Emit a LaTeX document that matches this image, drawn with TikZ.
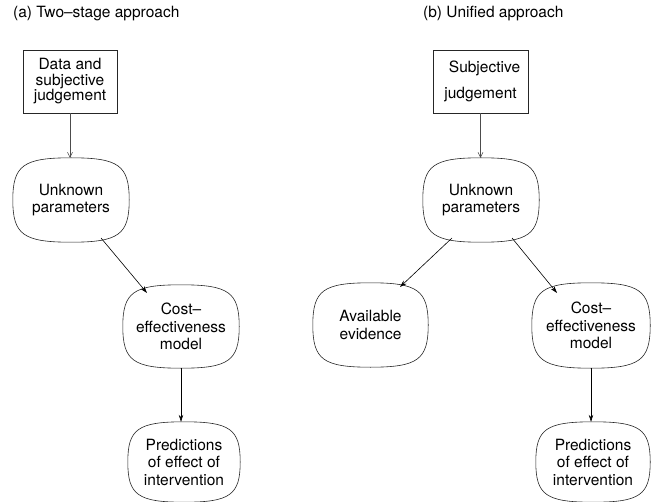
\documentclass[tikz,border=0pt]{standalone}
\usepackage{fontspec}
\setmainfont{TeX Gyre Heros}
\usetikzlibrary{arrows.meta,calc}
\newcommand{\sqcirc}[1]{%
  \draw[line width=0.6pt, draw=black!85]
    (#1.north) .. controls ($(#1.north)!0.82!(#1.north east)$) and ($(#1.east)!0.82!(#1.north east)$) .. (#1.east)
    .. controls ($(#1.east)!0.82!(#1.south east)$) and ($(#1.south)!0.82!(#1.south east)$) .. (#1.south)
    .. controls ($(#1.south)!0.82!(#1.south west)$) and ($(#1.west)!0.82!(#1.south west)$) .. (#1.west)
    .. controls ($(#1.west)!0.82!(#1.north west)$) and ($(#1.north)!0.82!(#1.north west)$) .. (#1.north) -- cycle;}
\begin{document}
\begin{tikzpicture}[x=1pt,y=-1pt,
  font=\fontsize{15.5}{17.5}\selectfont,
  sqbox/.style={draw, draw=black!85, line width=0.6pt, inner sep=0pt, align=center, minimum width=94pt, minimum height=63pt},
  blob/.style={inner sep=0pt, align=center, minimum width=116pt, minimum height=84pt},
  conn/.style={line width=0.6pt, -{Stealth[length=7pt,width=4.5pt]}},
  lconn/.style={line width=0.5pt, draw=black!70, -{Straight Barb[length=5pt,width=5pt]}},
  ttl/.style={anchor=west, inner sep=0pt}
]
\useasboundingbox (0,0) rectangle (652,502);

\node[ttl] (ta) at (13,14) {(a) Two\textendash stage approach};
\node[ttl] (tb) at (423,14) {(b) Unified approach};

% left panel
\node[sqbox, font=\fontsize{15.5}{15.5}\selectfont] (boxA) at (70,81.5) {Data and\\subjective\\judgement};
\node[blob] (unkA) at (71,200) {Unknown\\parameters};
\node[blob, minimum height=83pt] (costA) at (181,326.5) {Cost\textendash\\effectiveness\\model};
\node[blob, minimum width=112pt, minimum height=80pt] (predA) at (184,462) {Predictions\\of effect of\\intervention};
\sqcirc{unkA}\sqcirc{costA}\sqcirc{predA}

\draw[lconn] (boxA.south) -- (boxA.south |- unkA.north);
\draw[conn] ($(unkA.center)+(30,38)$) -- ($(costA.center)+(-34,-33.5)$);
\draw[conn] (costA.south) -- (costA.south |- predA.north);

% right panel
\node[sqbox, minimum width=95pt, font=\fontsize{15.5}{26}\selectfont] (boxB) at (480.5,81.5) {\hspace*{8pt}Subjective\\judgement};
\node[blob] (unkB) at (481,200) {Unknown\\parameters};
\node[blob, minimum width=115pt] (avB) at (370.5,325) {Available\\evidence};
\node[blob, minimum width=118pt, minimum height=85pt] (costB) at (591,325.5) {Cost\textendash\\effectiveness\\model};
\node[blob, minimum width=114pt, minimum height=80pt] (predB) at (593,462) {Predictions\\of effect of\\intervention};
\sqcirc{unkB}\sqcirc{avB}\sqcirc{costB}\sqcirc{predB}

\draw[lconn] (boxB.south) -- (boxB.south |- unkB.north);
\draw[conn] ($(unkB.center)+(-29,38)$) -- ($(avB.center)+(29.5,-38)$);
\draw[conn] ($(unkB.center)+(31,38)$) -- ($(costB.center)+(-34,-32.5)$);
\draw[conn] (costB.south) -- (costB.south |- predB.north);
\end{tikzpicture}
\end{document}
